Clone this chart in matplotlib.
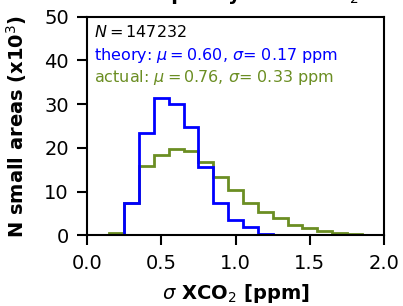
import matplotlib.pyplot as plt
import numpy as np

# histogram of sigma XCO2 (counts in thousands), bin width 0.1 ppm
theory_edges = np.round(np.arange(0.25, 1.26, 0.1), 2)
theory_counts = [7.4, 23.4, 31.4, 30.1, 24.8, 15.7, 7.5, 3.5, 1.9, 0.4]

actual_edges = np.round(np.arange(0.15, 2.06, 0.1), 2)
actual_counts = [0.5, 7.4, 15.9, 18.4, 19.8, 19.4, 16.7, 13.3, 10.3, 7.4,
                 5.3, 3.9, 2.4, 1.6, 1.0, 0.65, 0.35, 0.2, 0.1]

n_total = 147232
theory_mu, theory_sd = 0.60, 0.17
actual_mu, actual_sd = 0.76, 0.33

fig = plt.figure(figsize=(4.03, 3.06), dpi=100)
ax = fig.add_axes([0.216, 0.2304, 0.737, 0.715])

ax.stairs(actual_counts, actual_edges, color='olivedrab', lw=2)
ax.stairs(theory_counts, theory_edges, color='blue', lw=2)

ax.set_xlim(0, 2.0)
ax.set_ylim(0, 50)
ax.set_xticks([0.0, 0.5, 1.0, 1.5, 2.0])
ax.set_yticks([0, 10, 20, 30, 40, 50])
ax.tick_params(labelsize=14, width=1.5, length=7, pad=6)
for s in ax.spines.values():
    s.set_linewidth(1.5)

ax.set_xlabel(r'$\sigma$ XCO$_2$ [ppm]', fontsize=14, fontweight='bold', labelpad=7)
ax.set_ylabel(r'N small areas (x10$^3$)', fontsize=14, fontweight='bold', labelpad=11)

ax.text(0.025, 0.965, r'$N = $' + str(n_total), transform=ax.transAxes,
        fontsize=11.5, va='top')
ax.text(0.025, 0.865, r'theory: $\mu = %.2f$, $\sigma$= %.2f ppm' % (theory_mu, theory_sd),
        transform=ax.transAxes, fontsize=11.5, va='top', color='blue')
ax.text(0.025, 0.765, r'actual: $\mu = %.2f$, $\sigma$= %.2f ppm' % (actual_mu, actual_sd),
        transform=ax.transAxes, fontsize=11.5, va='top', color='olivedrab')

# title sits mostly above the top edge, as in the cropped original
fig.text(0.568, 1.0, r'Good quality data XCO$_2$', fontsize=14,
         fontweight='bold', ha='center', va='baseline')

fig.savefig('out.png', dpi=100)
